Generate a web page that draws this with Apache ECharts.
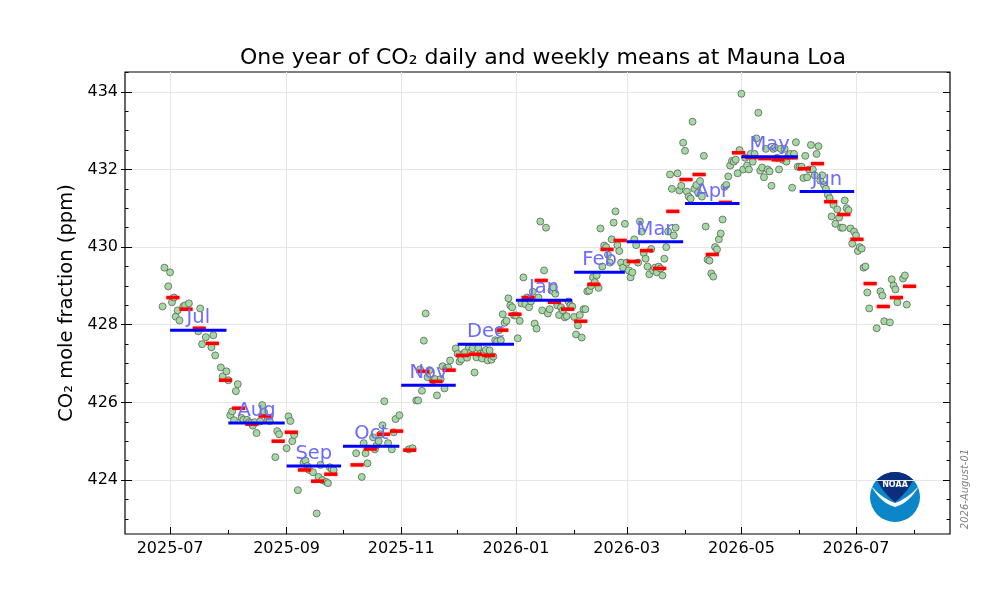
<!DOCTYPE html>
<html>
<head>
<meta charset="utf-8">
<title>Mauna Loa CO2 - one year</title>
<script src="https://cdn.jsdelivr.net/npm/echarts@6.0.0/dist/echarts.min.js"></script>
<style>
  html, body { margin: 0; padding: 0; background: #fff; }
  #chart { width: 1000px; height: 600px; }
</style>
</head>
<body>
<div id="chart"></div>
<script>
// daily means (ppm)
var dailyDates = [
  '2025-06-27','2025-06-28','2025-06-30','2025-07-01','2025-07-02','2025-07-03','2025-07-04','2025-07-05','2025-07-06','2025-07-08',
  '2025-07-09','2025-07-11','2025-07-16','2025-07-17','2025-07-18','2025-07-20','2025-07-23','2025-07-24','2025-07-25','2025-07-28',
  '2025-07-29','2025-07-31','2025-08-01','2025-08-02','2025-08-03','2025-08-04','2025-08-05','2025-08-06','2025-08-08','2025-08-09',
  '2025-08-11','2025-08-12','2025-08-13','2025-08-14','2025-08-15','2025-08-16','2025-08-18','2025-08-19','2025-08-20','2025-08-22',
  '2025-08-23','2025-08-26','2025-08-27','2025-08-28','2025-09-01','2025-09-02','2025-09-03','2025-09-04','2025-09-05','2025-09-07',
  '2025-09-10','2025-09-11','2025-09-12','2025-09-13','2025-09-15','2025-09-17','2025-09-18','2025-09-19','2025-09-20','2025-09-22',
  '2025-09-23','2025-09-24','2025-09-25','2025-09-26','2025-10-08','2025-10-11','2025-10-12','2025-10-13','2025-10-14','2025-10-17',
  '2025-10-18','2025-10-19','2025-10-20','2025-10-21','2025-10-22','2025-10-23','2025-10-25','2025-10-27','2025-10-28','2025-10-29',
  '2025-10-31','2025-11-05','2025-11-07','2025-11-09','2025-11-10','2025-11-11','2025-11-12','2025-11-13','2025-11-14','2025-11-15',
  '2025-11-16','2025-11-18','2025-11-19','2025-11-20','2025-11-22','2025-11-23','2025-11-24','2025-11-25','2025-11-26','2025-11-27',
  '2025-11-30','2025-12-01','2025-12-02','2025-12-03','2025-12-04','2025-12-05','2025-12-06','2025-12-07','2025-12-08','2025-12-09',
  '2025-12-10','2025-12-11','2025-12-12','2025-12-13','2025-12-14','2025-12-15','2025-12-16','2025-12-17','2025-12-18','2025-12-19',
  '2025-12-20','2025-12-21','2025-12-22','2025-12-23','2025-12-24','2025-12-25','2025-12-26','2025-12-27','2025-12-28','2025-12-29',
  '2025-12-30','2025-12-31','2026-01-01','2026-01-02','2026-01-03','2026-01-04','2026-01-05','2026-01-06','2026-01-07','2026-01-08',
  '2026-01-09','2026-01-10','2026-01-11','2026-01-12','2026-01-13','2026-01-14','2026-01-15','2026-01-16','2026-01-17','2026-01-18',
  '2026-01-19','2026-01-20','2026-01-21','2026-01-22','2026-01-23','2026-01-24','2026-01-25','2026-01-26','2026-01-27','2026-01-28',
  '2026-01-29','2026-01-30','2026-01-31','2026-02-01','2026-02-02','2026-02-03','2026-02-04','2026-02-05','2026-02-06','2026-02-07',
  '2026-02-08','2026-02-09','2026-02-10','2026-02-11','2026-02-12','2026-02-13','2026-02-14','2026-02-15','2026-02-16','2026-02-17',
  '2026-02-18','2026-02-19','2026-02-20','2026-02-21','2026-02-22','2026-02-23','2026-02-24','2026-02-25','2026-02-26','2026-02-27',
  '2026-02-28','2026-03-01','2026-03-02','2026-03-03','2026-03-04','2026-03-05','2026-03-06','2026-03-07','2026-03-08','2026-03-09',
  '2026-03-10','2026-03-11','2026-03-12','2026-03-13','2026-03-14','2026-03-15','2026-03-16','2026-03-17','2026-03-18','2026-03-19',
  '2026-03-20','2026-03-21','2026-03-22','2026-03-23','2026-03-24','2026-03-25','2026-03-26','2026-03-27','2026-03-28','2026-03-29',
  '2026-03-30','2026-03-31','2026-04-01','2026-04-02','2026-04-03','2026-04-04','2026-04-05','2026-04-06','2026-04-07','2026-04-08',
  '2026-04-09','2026-04-10','2026-04-11','2026-04-12','2026-04-13','2026-04-14','2026-04-15','2026-04-16','2026-04-17','2026-04-18',
  '2026-04-19','2026-04-20','2026-04-21','2026-04-22','2026-04-23','2026-04-24','2026-04-25','2026-04-26','2026-04-27','2026-04-28',
  '2026-04-29','2026-04-30','2026-05-01','2026-05-02','2026-05-03','2026-05-04','2026-05-05','2026-05-06','2026-05-07','2026-05-08',
  '2026-05-09','2026-05-10','2026-05-11','2026-05-12','2026-05-13','2026-05-14','2026-05-15','2026-05-16','2026-05-17','2026-05-18',
  '2026-05-19','2026-05-20','2026-05-21','2026-05-22','2026-05-23','2026-05-24','2026-05-25','2026-05-26','2026-05-27','2026-05-28',
  '2026-05-29','2026-05-30','2026-05-31','2026-06-01','2026-06-02','2026-06-03','2026-06-04','2026-06-05','2026-06-06','2026-06-07',
  '2026-06-08','2026-06-09','2026-06-10','2026-06-11','2026-06-12','2026-06-13','2026-06-14','2026-06-15','2026-06-16','2026-06-17',
  '2026-06-18','2026-06-19','2026-06-20','2026-06-21','2026-06-22','2026-06-23','2026-06-24','2026-06-25','2026-06-26','2026-06-27',
  '2026-06-28','2026-06-29','2026-06-30','2026-07-01','2026-07-02','2026-07-03','2026-07-04','2026-07-05','2026-07-06','2026-07-07',
  '2026-07-08','2026-07-12','2026-07-14','2026-07-15','2026-07-16','2026-07-19','2026-07-20','2026-07-21','2026-07-22','2026-07-23',
  '2026-07-26','2026-07-27','2026-07-28'
];
var dailyCO2 = [
  428.47,429.47,428.99,429.35,428.58,428.70,428.21,428.37,428.11,428.47,
  428.50,428.55,427.83,428.42,427.50,427.68,427.42,427.73,427.21,426.90,
  426.67,426.80,426.57,425.67,425.77,425.54,426.29,426.47,425.60,425.55,
  425.55,425.49,425.47,425.40,425.49,425.21,425.51,425.93,425.75,425.57,
  425.52,424.59,425.26,425.18,424.82,425.64,425.52,425.00,425.16,423.74,
  424.45,424.50,424.36,424.26,424.20,423.14,424.08,424.39,424.00,423.95,
  423.92,424.33,424.28,424.25,424.69,424.08,424.95,424.69,424.43,425.10,
  424.79,424.90,425.00,425.18,425.41,426.03,424.95,424.79,425.23,425.57,
  425.67,424.79,424.82,426.05,426.05,426.85,426.30,427.59,428.29,426.65,
  426.83,426.57,426.60,426.18,426.60,426.93,426.36,426.88,426.90,427.08,
  427.39,427.25,427.05,427.11,427.25,427.29,427.15,427.42,427.29,427.39,
  426.77,427.16,427.40,427.25,427.13,427.29,427.35,427.08,427.34,427.10,
  427.18,427.60,427.57,427.86,427.60,428.27,428.05,428.10,428.68,428.50,
  428.45,428.24,428.24,427.65,428.10,428.55,429.22,428.53,428.70,428.45,
  428.60,428.85,428.03,427.90,428.70,430.66,428.37,429.40,430.50,428.29,
  428.40,428.88,428.96,428.80,428.50,428.25,428.45,428.37,428.19,428.22,
  428.60,428.50,428.47,428.20,427.75,427.98,428.25,427.67,428.40,428.40,
  428.86,428.88,429.00,429.22,429.10,429.27,428.95,430.48,429.50,430.04,
  430.00,429.80,429.60,430.20,430.63,430.92,430.05,429.90,429.60,429.47,
  430.60,429.60,429.40,429.22,429.35,430.20,430.05,429.60,430.66,430.40,
  429.85,429.70,429.50,429.30,429.95,429.40,429.47,429.35,429.50,429.45,
  429.27,429.70,430.00,430.40,431.87,431.50,430.30,430.50,431.90,431.46,
  431.58,432.69,432.48,431.43,431.30,431.25,433.23,431.50,431.60,431.40,
  431.70,431.30,432.35,430.53,429.68,429.65,429.32,429.24,430.00,429.94,
  430.20,430.35,430.71,431.55,431.60,431.82,432.10,432.22,432.20,432.25,
  431.90,432.50,433.95,432.00,432.30,432.10,432.00,432.40,432.20,432.40,
  432.80,433.46,431.97,432.05,431.80,432.53,432.00,431.95,431.58,432.53,
  432.56,432.30,432.00,432.53,432.25,432.53,432.20,432.35,432.40,431.53,
  432.40,432.70,432.07,432.07,432.07,431.78,432.35,431.80,432.00,432.63,
  432.00,431.85,432.40,432.60,431.71,431.85,431.60,431.50,431.35,431.26,
  430.79,431.09,430.60,430.97,430.76,430.50,430.50,431.20,431.00,430.95,
  430.48,430.09,430.40,430.30,429.90,430.00,429.96,429.47,429.50,428.83,
  428.42,427.91,428.86,428.75,428.09,428.06,429.17,429.01,428.91,428.58,
  429.19,429.27,428.52
];

// weekly means, one per week starting on Sunday 2025-06-29 (null = no data)
var firstWeekStart = '2025-06-29';
var weeklyCO2 = [
  428.70,428.40,427.91,427.52,426.57,425.85,425.44,425.65,425.00,425.23,
  424.26,423.97,424.15,null,  424.39,424.80,425.18,425.26,424.77,426.80,
  426.54,426.83,427.21,427.24,427.21,427.86,428.27,428.70,429.14,428.58,
  428.40,428.09,429.04,429.94,430.17,429.63,429.91,429.45,430.92,431.74,
  431.87,429.81,431.15,432.43,432.31,432.28,432.25,432.30,432.02,432.15,
  431.17,430.84,430.20,429.06,428.47,428.70,428.99
];

// monthly means
var months = ['2025-07','2025-08','2025-09','2025-10','2025-11','2025-12',
              '2026-01','2026-02','2026-03','2026-04','2026-05','2026-06'];
var monthNames = ['Jul','Aug','Sep','Oct','Nov','Dec','Jan','Feb','Mar','Apr','May','Jun'];
var monthlyCO2 = [427.86,425.47,424.36,424.87,426.44,427.50,428.63,429.35,430.14,431.12,432.33,431.43];

var xTickMonths = ['2025-07','2025-09','2025-11','2026-01','2026-03','2026-05','2026-07'];
var yTicks = [424,426,428,430,432,434];

var DAY = 86400000;
function ts(s) {
  var p = s.split('-');
  return Date.UTC(+p[0], +p[1] - 1, p[2] ? +p[2] : 1);
}

var xMin = ts('2025-06-07'), xMax = ts('2026-08-20');
var yMin = 422.61, yMax = 434.51;

var dailyData = dailyDates.map(function (d, i) { return [ts(d), dailyCO2[i]]; });

var weekData = [];
weeklyCO2.forEach(function (v, i) {
  if (v == null) return;
  var s = ts(firstWeekStart) + i * 7 * DAY;
  weekData.push([s, s + 7 * DAY, v]);
});

var monthData = months.map(function (m, i) {
  var p = m.split('-');
  var s = Date.UTC(+p[0], +p[1] - 1, 1);
  var e = Date.UTC(+p[0], +p[1], 0);
  return [s, e, monthlyCO2[i]];
});

// every month for the minor x ticks
var minorX = [];
for (var y = 2025; y <= 2026; y++) {
  for (var m = 0; m < 12; m++) {
    var t = Date.UTC(y, m, 1);
    if (t > xMin && t < xMax) minorX.push(t);
  }
}
var minorY = [];
for (var v = 423; v <= 434.5; v += 0.5) minorY.push(v);

// NOAA emblem outlines (50x50 box)
function quad(p0, p1, p2, n) {
  var pts = [];
  for (var i = 0; i <= n; i++) {
    var t = i / n, u = 1 - t;
    pts.push([u * u * p0[0] + 2 * u * t * p1[0] + t * t * p2[0],
              u * u * p0[1] + 2 * u * t * p1[1] + t * t * p2[1]]);
  }
  return pts;
}
var capPts = [];
var a0 = Math.atan2(8 - 25, 6.7 - 25), a1 = Math.atan2(8 - 25, 43.3 - 25);
for (var i = 0; i <= 24; i++) {
  var ang = a0 + (a1 - a0) * i / 24;
  capPts.push([25 + 25 * Math.cos(ang), 25 + 25 * Math.sin(ang)]);
}
capPts = capPts.concat(quad([43.3, 8], [36, 22], [25, 30], 12), quad([25, 30], [14, 22], [6.7, 8], 12));
var birdPts = quad([1, 14], [13, 27], [25, 31], 12)
  .concat(quad([25, 31], [37, 27], [49, 14], 12))
  .concat(quad([49, 14], [39, 31], [25, 35], 12))
  .concat(quad([25, 35], [11, 31], [1, 14], 12));

var font = 'DejaVu Sans';
var chart = echarts.init(document.getElementById('chart'));

var hidden = { show: false };
function tickAxis(extra) {
  var a = {
    gridIndex: 0, type: 'value',
    axisLine: hidden, axisLabel: hidden, splitLine: hidden
  };
  for (var k in extra) a[k] = extra[k];
  return a;
}

var option = {
  animation: false,
  backgroundColor: '#ffffff',
  title: {
    text: 'One year of CO\u2082 daily and weekly means at Mauna Loa',
    left: 538, top: 42, textAlign: 'center',
    textStyle: { fontFamily: font, fontSize: 22, fontWeight: 'normal', color: '#000' }
  },
  grid: {
    left: 125, right: 50, top: 72, bottom: 66,
    show: true, borderColor: '#000', borderWidth: 1.2, backgroundColor: 'transparent'
  },
  xAxis: [
    {
      type: 'value', min: xMin, max: xMax,
      axisLine: hidden,
      axisTick: { show: true, inside: true, length: 7, lineStyle: { color: '#000', width: 1 },
                  customValues: xTickMonths.map(ts) },
      axisLabel: {
        customValues: xTickMonths.map(ts), margin: 7,
        fontFamily: font, fontSize: 16, color: '#000',
        formatter: function (val) {
          var d = new Date(val);
          var mm = d.getUTCMonth() + 1;
          return d.getUTCFullYear() + '-' + (mm < 10 ? '0' : '') + mm;
        }
      },
      splitLine: { show: true, lineStyle: { color: '#e6e6e6', width: 1 } }
    },
    tickAxis({ min: xMin, max: xMax, position: 'bottom',
      axisTick: { show: true, inside: true, length: 4, lineStyle: { color: '#000' }, customValues: minorX } })
  ],
  yAxis: [
    {
      type: 'value', min: yMin, max: yMax, position: 'left',
      name: 'CO\u2082 mole fraction (ppm)', nameLocation: 'middle', nameGap: 44,
      nameTextStyle: { fontFamily: font, fontSize: 19.5, color: '#000' },
      axisLine: hidden,
      axisTick: { show: true, inside: false, length: 4, lineStyle: { color: '#000' }, customValues: yTicks },
      axisLabel: { customValues: yTicks, margin: 7, fontFamily: font, fontSize: 16, color: '#000' },
      splitLine: { show: true, lineStyle: { color: '#e6e6e6', width: 1 } }
    },
    tickAxis({ min: yMin, max: yMax, position: 'left',
      axisTick: { show: true, inside: true, length: 7, lineStyle: { color: '#000' }, customValues: yTicks } }),
    tickAxis({ min: yMin, max: yMax, position: 'left',
      axisTick: { show: true, inside: true, length: 3.5, lineStyle: { color: '#000' }, customValues: minorY } }),
    tickAxis({ min: yMin, max: yMax, position: 'right',
      axisTick: { show: true, inside: true, length: 7, lineStyle: { color: '#000' }, customValues: yTicks } }),
    tickAxis({ min: yMin, max: yMax, position: 'right',
      axisTick: { show: true, inside: true, length: 3.5, lineStyle: { color: '#000' }, customValues: minorY } })
  ],
  series: [
    {
      name: 'daily', type: 'scatter', z: 2,
      xAxisIndex: 0, yAxisIndex: 0,
      symbol: 'circle', symbolSize: 7,
      itemStyle: { color: '#a2dba2', borderColor: '#5f5f5f', borderWidth: 0.8, opacity: 1 },
      emphasis: { disabled: true },
      data: dailyData
    },
    {
      name: 'weekly', type: 'custom', z: 3,
      xAxisIndex: 0, yAxisIndex: 0,
      encode: { x: [0, 1], y: 2 },
      renderItem: function (params, api) {
        var a = api.coord([api.value(0), api.value(2)]);
        var b = api.coord([api.value(1), api.value(2)]);
        return {
          type: 'line',
          shape: { x1: a[0], y1: a[1], x2: b[0], y2: b[1] },
          style: { stroke: '#ff0000', lineWidth: 3.5, shadowBlur: 2, shadowColor: 'rgba(255,0,0,0.35)' }
        };
      },
      data: weekData
    },
    {
      name: 'monthly', type: 'custom', z: 4,
      xAxisIndex: 0, yAxisIndex: 0,
      encode: { x: [0, 1], y: 2 },
      renderItem: function (params, api) {
        var a = api.coord([api.value(0), api.value(2)]);
        var b = api.coord([api.value(1), api.value(2)]);
        return {
          type: 'group',
          children: [
            { type: 'line', shape: { x1: a[0], y1: a[1], x2: b[0], y2: b[1] },
              style: { stroke: '#0000ff', lineWidth: 3 } },
            { type: 'text', x: (a[0] + b[0]) / 2, y: a[1] - 2,
              style: { text: monthNames[params.dataIndex], fill: '#6b6bff',
                       font: '19.5px "DejaVu Sans"', align: 'center', verticalAlign: 'bottom' } }
          ]
        };
      },
      data: monthData
    }
  ],
  graphic: [
    {
      type: 'text', x: 965, y: 489, rotation: Math.PI / 2,
      style: { text: '2026-August-01', fill: '#808080', font: 'italic 10px "DejaVu Sans"',
               align: 'center', verticalAlign: 'middle' }
    },
    {
      // NOAA emblem
      type: 'group', x: 870, y: 472,
      children: [
        { type: 'circle', shape: { cx: 25, cy: 25, r: 25 }, style: { fill: '#0a86c9' } },
        { type: 'polygon', shape: { points: capPts }, style: { fill: '#0b2f7c' } },
        { type: 'polygon', shape: { points: birdPts }, style: { fill: '#ffffff' } },
        { type: 'text', x: 25, y: 13,
          style: { text: 'NOAA', fill: '#ffffff', font: 'bold 8px "DejaVu Sans"', align: 'center', verticalAlign: 'middle' } }
      ]
    }
  ]
};

chart.setOption(option);
</script>
</body>
</html>
